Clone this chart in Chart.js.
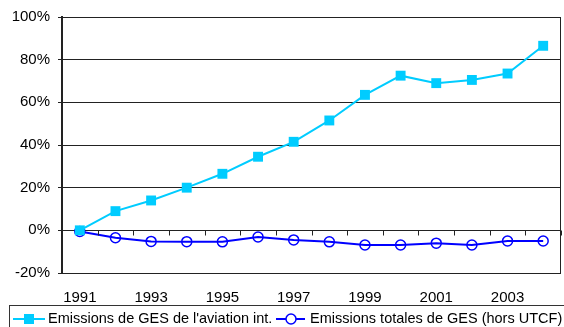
<!DOCTYPE html>
<html>
<head>
<meta charset="utf-8">
<script src="https://cdn.jsdelivr.net/npm/chart.js@4/dist/chart.umd.min.js"></script>
<style>
  html, body { margin: 0; padding: 0; background: #fff; }
  canvas { display: block; }
</style>
</head>
<body>
<canvas id="chart" width="564" height="327"></canvas>
<script>
const years = ['1991', '1992', '1993', '1994', '1995', '1996', '1997',
  '1998', '1999', '2000', '2001', '2002', '2003', '2004'];
const aviation = [0, 9, 14, 20, 26.5, 34.5, 41.5, 51.5, 63.5, 72.5, 69, 70.5, 73.5, 86.5];
const totales = [-0.5, -3.5, -5.2, -5.3, -5.4, -3.1, -4.5, -5.4, -6.9, -6.9, -6, -6.9, -5, -5];
const seriesNames = ["Emissions de GES de l'aviation int.", 'Emissions totales de GES (hors UTCF)'];

const font = { family: '"Liberation Sans", Arial, sans-serif', size: 15 };

// cadre, graduations sur la ligne 0 %, légende encadrée en bas
const framePlugin = {
  id: 'frame',
  afterDraw(chart) {
    const ctx = chart.ctx;
    const a = chart.chartArea;
    const xs = chart.scales.x;
    const y0 = Math.round(chart.scales.y.getPixelForValue(0)) + 0.5;
    ctx.save();
    ctx.strokeStyle = '#222';
    ctx.lineWidth = 1;
    ctx.strokeRect(a.left + 0.5, a.top + 0.5, a.right - a.left - 1, a.bottom - a.top);

    // graduations de l'axe des x sur la ligne 0 %
    const half = (xs.getPixelForValue(1) - xs.getPixelForValue(0)) / 2;
    ctx.beginPath();
    for (let i = 0; i <= years.length; i++) {
      const px = Math.round(xs.getPixelForValue(i) - half) + 0.5;
      ctx.moveTo(px, y0);
      ctx.lineTo(px, y0 + 5);
    }
    ctx.stroke();

    // légende
    ctx.strokeStyle = '#333';
    ctx.strokeRect(9.5, 305.5, 600, 40);
    ctx.font = '14.5px "Liberation Sans", Arial, sans-serif';
    ctx.textBaseline = 'middle';
    const ly = 319;
    const ds = chart.data.datasets;

    ctx.strokeStyle = ds[0].borderColor;
    ctx.lineWidth = 2;
    ctx.beginPath(); ctx.moveTo(13, ly); ctx.lineTo(45, ly); ctx.stroke();
    ctx.fillStyle = ds[0].borderColor;
    ctx.fillRect(24, ly - 5, 10, 10);
    ctx.fillStyle = '#000';
    ctx.fillText(seriesNames[0], 48, ly);

    ctx.strokeStyle = ds[1].borderColor;
    ctx.beginPath(); ctx.moveTo(276, ly); ctx.lineTo(305, ly); ctx.stroke();
    ctx.fillStyle = '#fff';
    ctx.lineWidth = 1.5;
    ctx.beginPath(); ctx.arc(291, ly, 5, 0, Math.PI * 2); ctx.fill(); ctx.stroke();
    ctx.fillStyle = '#000';
    ctx.fillText(seriesNames[1], 310, ly);
    ctx.restore();
  }
};

new Chart(document.getElementById('chart').getContext('2d'), {
  type: 'line',
  data: {
    labels: years,
    datasets: [
      {
        label: seriesNames[0],
        data: aviation,
        borderColor: '#00CCFF',
        backgroundColor: '#00CCFF',
        borderWidth: 2,
        pointStyle: 'rect',
        pointRadius: 7,
        pointBorderWidth: 0,
        tension: 0
      },
      {
        label: seriesNames[1],
        data: totales,
        borderColor: '#0000FF',
        backgroundColor: 'rgba(0,0,0,0)',
        borderWidth: 2,
        pointStyle: 'circle',
        pointRadius: 5,
        pointBorderWidth: 1.5,
        tension: 0
      }
    ]
  },
  options: {
    responsive: false,
    animation: false,
    layout: { autoPadding: false, padding: { left: 0, right: 3, top: 13, bottom: 21 } },
    plugins: {
      legend: { display: false },
      tooltip: { enabled: false }
    },
    scales: {
      x: {
        offset: true,
        grid: { display: false, drawTicks: false },
        border: { display: false },
        afterFit(s) { s.height = 33; },
        ticks: {
          autoSkip: false,
          maxRotation: 0,
          padding: 16,
          color: '#000',
          font: font,
          callback(v, i) { return i % 2 === 0 ? this.getLabelForValue(v) : ''; }
        }
      },
      y: {
        min: -20,
        max: 100,
        afterFit(s) { s.width = 62; },
        grid: { color: '#222', lineWidth: 1, tickLength: 4 },
        border: { color: '#222', width: 2 },
        ticks: {
          stepSize: 20,
          padding: 8,
          color: '#000',
          font: font,
          callback: v => v + '%'
        }
      }
    }
  },
  plugins: [framePlugin]
});
</script>
</body>
</html>
